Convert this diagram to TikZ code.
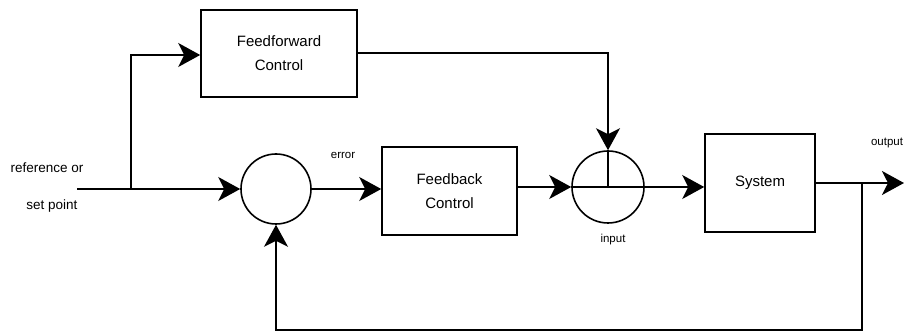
\documentclass[tikz,border=0pt]{standalone}
\usepackage{fontspec}
\setmainfont{Liberation Sans}
\usetikzlibrary{arrows.meta}
\begin{document}
\begin{tikzpicture}[x=1pt,y=-1pt,
  line width=1.6pt,
  blk/.style={draw, rectangle, align=center, font=\fontsize{15}{24}\selectfont},
  sumnode/.style={draw, circle, inner sep=0pt},
  lbl/.style={font=\fontsize{11.5}{13}\selectfont, inner sep=0pt},
  sidelbl/.style={font=\fontsize{13.5}{16}\selectfont, inner sep=0pt},
  flow/.style={-{Stealth[length=22pt,width=24pt,inset=6pt]}},
]
\useasboundingbox (0,0) rectangle (904,336);

% blocks
\node[blk, minimum width=156pt, minimum height=87pt] (ff) at (279,53.5) {Feedforward\\Control};
\node[blk, minimum width=135pt, minimum height=88pt] (fb) at (449.5,191) {Feedback\\Control};
\node[blk, minimum width=110pt, minimum height=98pt] (sys) at (760,183) {System};

% summing junctions
\node[sumnode, minimum size=70pt] (s1) at (276,189) {};
\node[sumnode, minimum size=72pt] (s2) at (608,187) {};
\draw (s2.north) -- (s2.center);
\draw (s2.west) -- (s2.east);

% free ends and branch points
\coordinate (in) at (77,189);
\coordinate (split) at (131,189);
\coordinate (out) at (904,183);
\coordinate (tap) at (862,183);
\coordinate (bot) at (862,330);

% labels
\node[sidelbl] (ref1) at (47,168) {reference or};
\node[sidelbl] (ref2) at (52,206) {set point};
\node[lbl] (err) at (343,155) {error};
\node[lbl] (inp) at (613,240) {input};
\node[lbl] (outl) at (887,143) {output};

% signal paths
\draw[flow] (in) -- (s1.west);
\draw[flow] (split) -- (131,55) -- (ff.west |- 0,55);
\draw[flow] (ff.east |- 0,53) -- (608,53) -- (s2.north);
\draw[flow] (s1.east) -- (s1.east -| fb.west);
\draw[flow] (fb.east |- s2.west) -- (s2.west);
\draw[flow] (s2.east) -- (s2.east -| sys.west);
\draw[flow] (sys.east) -- (out);
\draw[flow] (tap) -- (bot) -- (bot -| s1.south) -- (s1.south);
\end{tikzpicture}
\end{document}
